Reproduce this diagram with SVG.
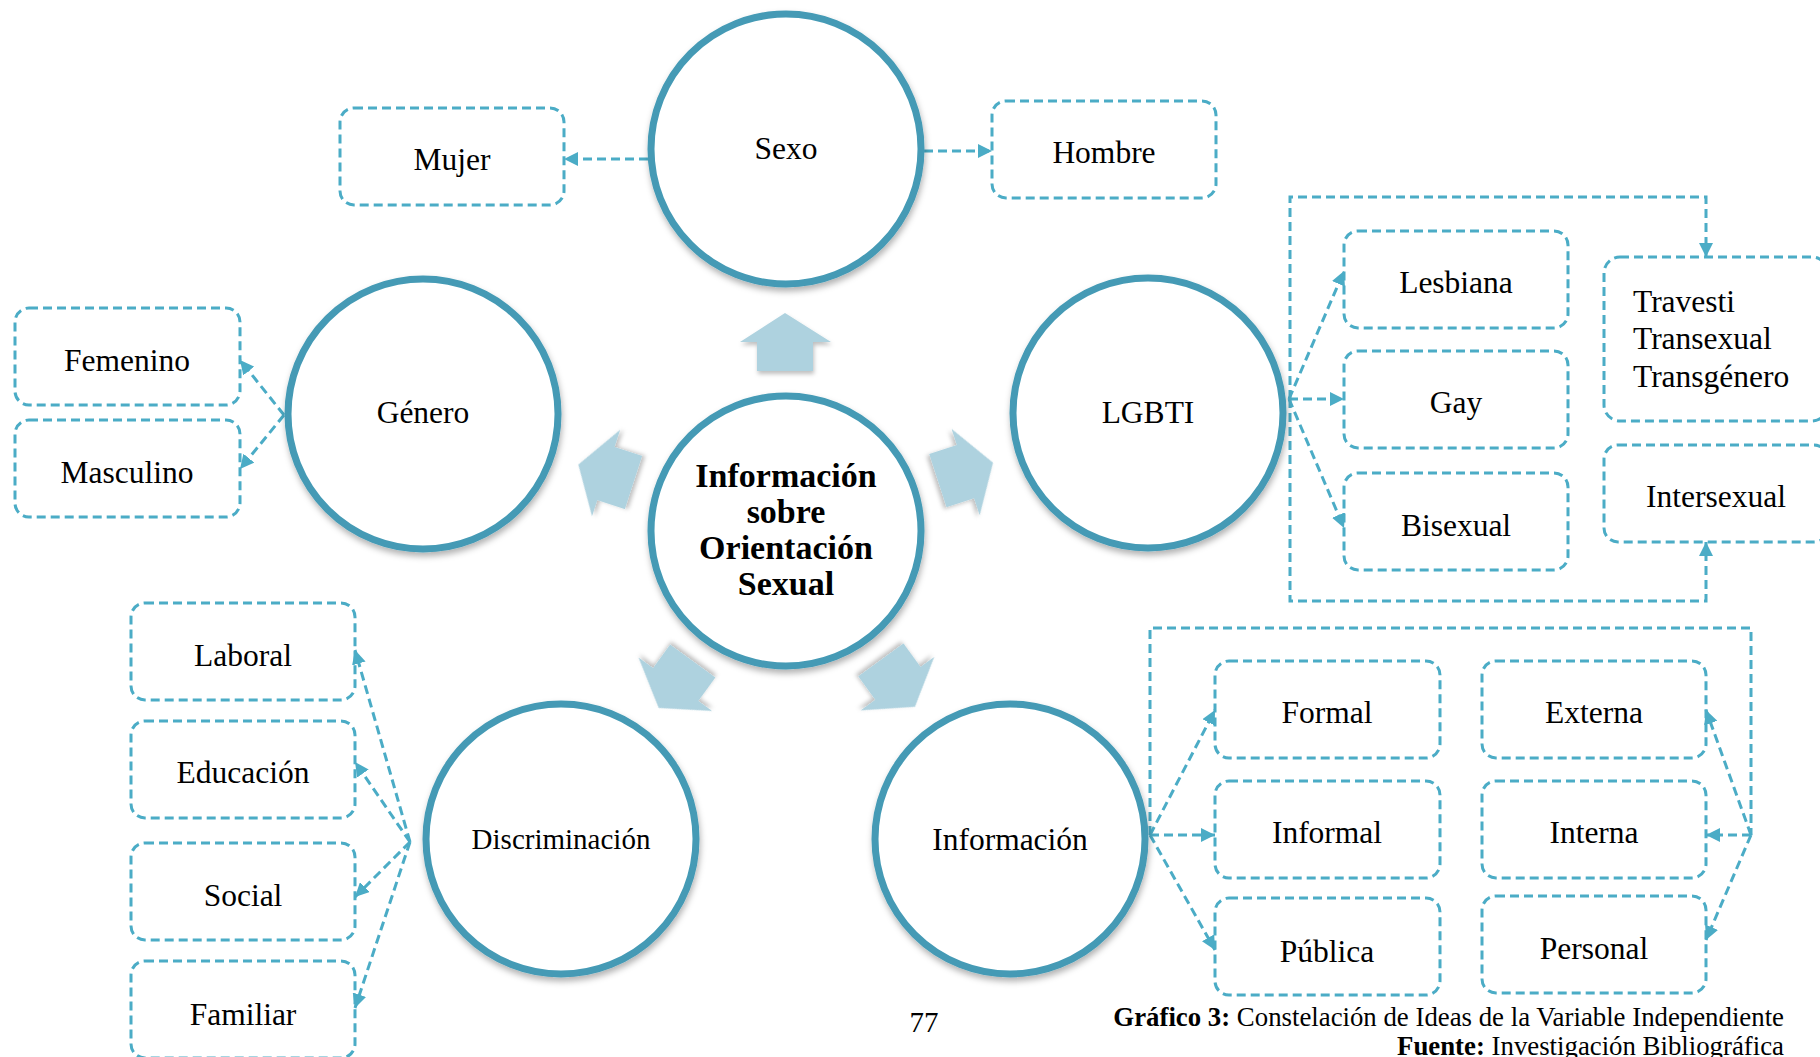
<svg xmlns="http://www.w3.org/2000/svg" width="1820" height="1057" viewBox="0 0 1820 1057">
<style>
text{font-family:"Liberation Serif","Times New Roman",serif;fill:#000}
.lbl{font-size:31.5px;text-anchor:middle}
.ctr{font-size:34px;font-weight:bold;text-anchor:middle}
.circ{fill:#fff;stroke:#449ab5;stroke-width:7;filter:url(#sh)}
.box{fill:none;stroke:#4bacc6;stroke-width:3;stroke-dasharray:9 5}
.con{fill:none;stroke:#4bacc6;stroke-width:3;stroke-dasharray:9 5}
.arr{marker-end:url(#ah)}
.blk{fill:#aed2df;filter:url(#sh2)}
.cap{font-size:26.8px;text-anchor:end}
</style>
<defs>
<filter id="sh" x="-20%" y="-20%" width="140%" height="140%">
<feDropShadow dx="1" dy="4" stdDeviation="3" flood-color="#000" flood-opacity="0.3"/>
</filter>
<filter id="sh2" x="-30%" y="-30%" width="160%" height="160%">
<feDropShadow dx="1" dy="3" stdDeviation="2" flood-color="#000" flood-opacity="0.25"/>
</filter>
<marker id="ah" viewBox="0 0 10 10" refX="10" refY="5" markerWidth="14" markerHeight="14" markerUnits="userSpaceOnUse" orient="auto">
<path d="M0,0 L10,5 L0,10 z" fill="#4bacc6"/>
</marker>
<polygon id="blkArrow" points="785,313 831,342 813,342 813,371 757,371 757,342 740,342"/>
</defs>
<rect width="1820" height="1057" fill="#fff"/>

<g id="block-arrows">
<use href="#blkArrow" class="blk"/>
<use href="#blkArrow" class="blk" transform="rotate(72 786 531)"/>
<use href="#blkArrow" class="blk" transform="rotate(144 786 531)"/>
<use href="#blkArrow" class="blk" transform="rotate(216 786 531)"/>
<use href="#blkArrow" class="blk" transform="rotate(288 786 531)"/>
</g>

<g id="connectors">
<line class="con arr" x1="648" y1="159" x2="564" y2="159"/>
<line class="con arr" x1="924" y1="151" x2="992" y2="151"/>
<line class="con arr" x1="284" y1="415" x2="240" y2="360"/>
<line class="con arr" x1="284" y1="415" x2="240" y2="469"/>
<line class="con arr" x1="1289" y1="399" x2="1344" y2="271"/>
<line class="con arr" x1="1289" y1="399" x2="1344" y2="399"/>
<line class="con arr" x1="1289" y1="399" x2="1344" y2="528"/>
<path class="con arr" d="M1290,399 V197 H1706 V257"/>
<path class="con arr" d="M1290,399 V601 H1706 V542"/>
<line class="con arr" x1="410" y1="842" x2="355" y2="650"/>
<line class="con arr" x1="410" y1="842" x2="355" y2="762"/>
<line class="con arr" x1="410" y1="842" x2="355" y2="897"/>
<line class="con arr" x1="410" y1="842" x2="355" y2="1008"/>
<line class="con arr" x1="1150" y1="835" x2="1215" y2="710"/>
<line class="con arr" x1="1150" y1="835" x2="1215" y2="835"/>
<line class="con arr" x1="1150" y1="835" x2="1215" y2="950"/>
<path class="con" d="M1150,835 V628 H1751 V835"/>
<line class="con arr" x1="1751" y1="835" x2="1706" y2="710"/>
<line class="con arr" x1="1751" y1="835" x2="1706" y2="835"/>
<line class="con arr" x1="1751" y1="835" x2="1706" y2="940"/>
</g>

<g id="center">
<circle class="circ" cx="786" cy="531" r="135"/>
<text class="ctr" x="786" y="487">Información</text>
<text class="ctr" x="786" y="523">sobre</text>
<text class="ctr" x="786" y="559">Orientación</text>
<text class="ctr" x="786" y="595">Sexual</text>
</g>

<g id="sexo">
<circle class="circ" cx="786" cy="149" r="135"/>
<text class="lbl" x="786" y="159">Sexo</text>
</g>
<g id="mujer"><rect class="box" x="340" y="108" width="224" height="97" rx="14"/><text class="lbl" x="452" y="170">Mujer</text></g>
<g id="hombre"><rect class="box" x="992" y="101" width="224" height="97" rx="14"/><text class="lbl" x="1104" y="163">Hombre</text></g>

<g id="genero">
<circle class="circ" cx="423" cy="414" r="135"/>
<text class="lbl" x="423" y="423">Género</text>
</g>
<g id="femenino"><rect class="box" x="15" y="308" width="225" height="97" rx="14"/><text class="lbl" x="127" y="371">Femenino</text></g>
<g id="masculino"><rect class="box" x="15" y="420" width="225" height="97" rx="14"/><text class="lbl" x="127" y="483">Masculino</text></g>

<g id="lgbti">
<circle class="circ" cx="1148" cy="413" r="135"/>
<text class="lbl" x="1148" y="423">LGBTI</text>
</g>
<g id="lesbiana"><rect class="box" x="1344" y="231" width="224" height="97" rx="14"/><text class="lbl" x="1456" y="293">Lesbiana</text></g>
<g id="gay"><rect class="box" x="1344" y="351" width="224" height="97" rx="14"/><text class="lbl" x="1456" y="413">Gay</text></g>
<g id="bisexual"><rect class="box" x="1344" y="473" width="224" height="97" rx="14"/><text class="lbl" x="1456" y="536">Bisexual</text></g>
<g id="travesti"><rect class="box" x="1604" y="257" width="224" height="164" rx="16"/>
<text style="font-size:31.5px" x="1633" y="312">Travesti</text>
<text style="font-size:31.5px" x="1633" y="349">Transexual</text>
<text style="font-size:31.5px" x="1633" y="387">Transgénero</text></g>
<g id="intersexual"><rect class="box" x="1604" y="445" width="224" height="97" rx="14"/><text class="lbl" x="1716" y="507">Intersexual</text></g>

<g id="discriminacion">
<circle class="circ" cx="561" cy="839" r="135"/>
<text class="lbl" style="font-size:29px" x="561" y="849">Discriminación</text>
</g>
<g id="laboral"><rect class="box" x="131" y="603" width="224" height="97" rx="14"/><text class="lbl" x="243" y="666">Laboral</text></g>
<g id="educacion"><rect class="box" x="131" y="721" width="224" height="97" rx="14"/><text class="lbl" x="243" y="783">Educación</text></g>
<g id="social"><rect class="box" x="131" y="843" width="224" height="97" rx="14"/><text class="lbl" x="243" y="906">Social</text></g>
<g id="familiar"><rect class="box" x="131" y="961" width="224" height="97" rx="14"/><text class="lbl" x="243" y="1025">Familiar</text></g>

<g id="informacion">
<circle class="circ" cx="1010" cy="839" r="135"/>
<text class="lbl" x="1010" y="850">Información</text>
</g>
<g id="formal"><rect class="box" x="1215" y="661" width="225" height="97" rx="14"/><text class="lbl" x="1327" y="723">Formal</text></g>
<g id="informal"><rect class="box" x="1215" y="781" width="225" height="97" rx="14"/><text class="lbl" x="1327" y="843">Informal</text></g>
<g id="publica"><rect class="box" x="1215" y="898" width="225" height="97" rx="14"/><text class="lbl" x="1327" y="962">Pública</text></g>
<g id="externa"><rect class="box" x="1482" y="661" width="224" height="97" rx="14"/><text class="lbl" x="1594" y="723">Externa</text></g>
<g id="interna"><rect class="box" x="1482" y="781" width="224" height="97" rx="14"/><text class="lbl" x="1594" y="843">Interna</text></g>
<g id="personal"><rect class="box" x="1482" y="896" width="224" height="97" rx="14"/><text class="lbl" x="1594" y="959">Personal</text></g>

<g id="caption">
<text style="font-size:29px;text-anchor:middle" x="924" y="1032">77</text>
<text class="cap" x="1784" y="1026"><tspan font-weight="bold">Gráfico 3:</tspan> Constelación de Ideas de la Variable Independiente</text>
<text class="cap" x="1784" y="1055"><tspan font-weight="bold">Fuente:</tspan> Investigación Bibliográfica</text>
</g>
</svg>
